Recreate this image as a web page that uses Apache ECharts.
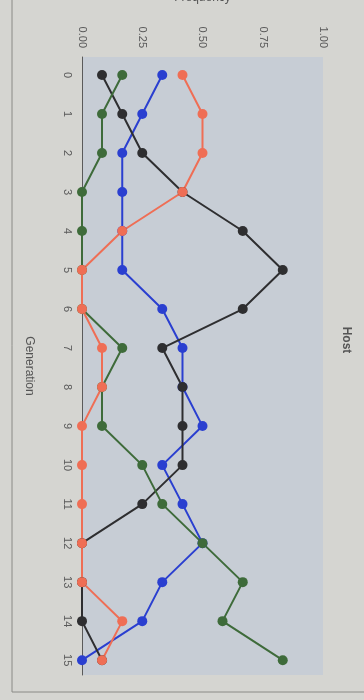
<!DOCTYPE html>
<html>
<head>
<meta charset="utf-8">
<script src="https://cdn.jsdelivr.net/npm/echarts@6/dist/echarts.min.js"></script>
<style>
html,body{margin:0;padding:0;background:#d5d5d1;}
#c{width:364px;height:700px;}
</style>
</head>
<body>
<div id="c"></div>
<script>
// Generation 0..15; frequencies
const generations = [0,1,2,3,4,5,6,7,8,9,10,11,12,13,14,15];
const blackFreq = [0.083,0.167,0.25,0.417,0.667,0.833,0.667,0.333,0.417,0.417,0.417,0.25,0,0,0,0.083];
const greenFreq = [0.167,0.083,0.083,0,0,0,0,0.167,0.083,0.083,0.25,0.333,0.5,0.667,0.583,0.833];
const blueFreq  = [0.333,0.25,0.167,0.167,0.167,0.167,0.333,0.417,0.417,0.5,0.333,0.417,0.5,0.333,0.25,0];
const redFreq   = [0.417,0.5,0.5,0.417,0.167,0,0,0.083,0.083,0,0,0,0,0,0.167,0.083];
const freqTicks = [0, 0.25, 0.5, 0.75, 1];
const genTicks = generations;

const chart = echarts.init(document.getElementById('c'));
function mk(name, vals, color){
  return {
    name: name, type: 'line', data: vals.map((v,i)=>[v, generations[i]]),
    symbol: 'circle', symbolSize: 10,
    lineStyle: {color: color, width: 2},
    itemStyle: {color: color},
    animation: false
  };
}
const labelFont = {color:'#5a5a5a', fontSize: 11, fontFamily: 'Liberation Sans, Arial, sans-serif'};
chart.setOption({
  backgroundColor: '#d5d5d1',
  animation: false,
  grid: {left: 82, right: 41, top: 57, bottom: 25, show: true, backgroundColor: '#c7cdd5', borderWidth: 0,
         containLabel: false, outerBoundsMode: 'none'},
  xAxis: {
    type: 'value', position: 'top', min: 0, max: 1, interval: 0.25,
    name: 'Frequency', nameLocation: 'middle', nameGap: 53,
    nameTextStyle: {color:'#555', fontSize: 12, fontFamily: 'Liberation Sans, Arial, sans-serif'},
    axisLine: {show: false}, axisTick: {show: false},
    splitLine: {show: false},
    axisLabel: Object.assign({rotate: -90, margin: 9, customValues: freqTicks,
      formatter: v => v.toFixed(2)}, labelFont)
  },
  yAxis: {
    type: 'value', inverse: true, min: -0.46, max: 15.38,
    name: 'Generation', nameLocation: 'middle', nameGap: 47, nameRotate: -90,
    nameTextStyle: {color:'#555', fontSize: 12, fontFamily: 'Liberation Sans, Arial, sans-serif'},
    axisLine: {show: true, lineStyle: {color: '#5a5a5a', width: 1}},
    axisTick: {show: false},
    splitLine: {show: false},
    axisLabel: Object.assign({rotate: -90, margin: 9, customValues: genTicks}, labelFont)
  },
  graphic: [
    {type: 'rect', shape: {x: 12, y: -5, width: 400, height: 697}, silent: true,
     style: {fill: 'none', stroke: '#8a8a86', lineWidth: 1}, z: -1},
    {type: 'text', x: 346, y: 340, rotation: -Math.PI/2,
     style: {text: 'Host', fill: '#555', fontSize: 12, fontWeight: 'bold',
       fontFamily: 'Liberation Sans, Arial, sans-serif', align: 'center', verticalAlign: 'middle'}}
  ],
  series: [
    mk('B', blueFreq, '#2a3fd0'),
    mk('A', blackFreq, '#2e2e30'),
    mk('C', greenFreq, '#3e6b3a'),
    mk('D', redFreq, '#ef6e55')
  ]
});
</script>
</body>
</html>
